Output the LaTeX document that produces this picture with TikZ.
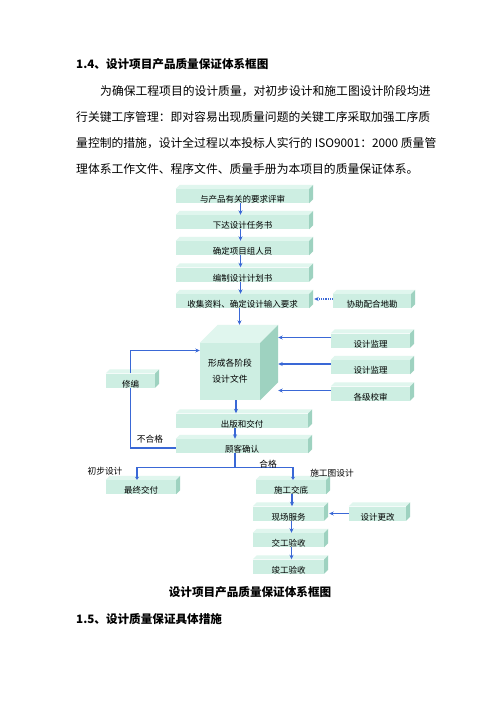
\documentclass[tikz,border=0pt]{standalone}
\usepackage{fontspec}
\setmainfont{Noto Sans CJK SC}
\usetikzlibrary{arrows.meta, positioning, calc}
\definecolor{qianlv}{RGB}{205,238,226}
\definecolor{dinglv}{RGB}{224,246,238}
\definecolor{celv}{RGB}{158,210,192}
\definecolor{lanxian}{RGB}{58,104,214}

\begin{document}
\begin{tikzpicture}[x=1pt, y=-1pt,
                kuang/.style={
                    rectangle,
                    fill=qianlv,
                    minimum height=14pt,
                    inner sep=0pt,
                    text height=13pt,
                    text depth=0pt,
                    font=\fontsize{8.5}{9}\selectfont
                },
                jt/.style={draw=lanxian, line width=1.1pt, -{Stealth[length=4.5pt,width=4pt]}},
                xujt/.style={jt, densely dotted},
                xian/.style={draw=lanxian, line width=1.1pt},
                biaozhu/.style={font=\fontsize{8.7}{9}\selectfont, inner sep=0pt},
                zhengwen/.style={font=\fontsize{11.8}{12}\selectfont, anchor=west, inner sep=0pt},
                biaoti/.style={font=\fontsize{11.6}{12}\selectfont\bfseries, anchor=west, inner sep=0pt}
            ]
                \useasboundingbox[fill=white] (0,0) rectangle (500,707);
                % text above and below the diagram
                \node[biaoti] (t14) at (76,64) {1.4、设计项目产品质量保证体系框图};
                \node[zhengwen] (p1) at (100,91) {为确保工程项目的设计质量，对初步设计和施工图设计阶段均进};
                \node[zhengwen] (p2) at (76,117) {行关键工序管理：即对容易出现质量问题的关键工序采取加强工序质};
                \node[zhengwen] (p3) at (76,143) {量控制的措施，设计全过程以本投标人实行的 ISO9001：2000 质量管};
                \node[zhengwen] (p4) at (76,169) {理体系工作文件、程序文件、质量手册为本项目的质量保证体系。};
                \node[font=\fontsize{11.6}{12}\selectfont\bfseries, inner sep=0pt] (tu) at (250,592) {设计项目产品质量保证体系框图};
                \node[biaoti] (t15) at (76,619) {1.5、设计质量保证具体措施};

                % boxes
                \node[kuang, minimum width=133pt] (b1) at (242.5,196) {与产品有关的要求评审};
                \node[kuang, minimum width=133pt] (b2) at (242.5,222) {下达设计任务书};
                \node[kuang, minimum width=133pt] (b3) at (242.5,248) {确定项目组人员};
                \node[kuang, minimum width=133pt] (b4) at (242.5,274.5) {编制设计计划书};
                \node[kuang, minimum width=133pt] (b5) at (242.5,301) {收集资料、确定设计输入要求};
                \node[kuang, minimum width=78pt] (xj) at (372,301) {协助配合地勘};
                \node[kuang, minimum width=79pt] (jl1) at (370.5,340.5) {设计监理};
                \node[kuang, minimum width=79pt] (jl2) at (370.5,367) {设计监理};
                \node[kuang, minimum width=79pt] (jsh) at (370.5,393.5) {各级校审};
                \node[kuang, minimum width=49pt] (xb) at (130.5,380.5) {修编};
                \node[kuang, minimum width=132pt] (cb) at (242,420.5) {出版和交付};
                \node[kuang, minimum width=132pt] (gk) at (242,446) {顾客确认};
                \node[kuang, minimum width=70pt] (zj) at (141,487) {最终交付};
                \node[kuang, minimum width=70pt] (sg) at (291,487) {施工交底};
                \node[kuang, minimum width=71pt] (xc) at (288.5,513.5) {现场服务};
                \node[kuang, minimum width=57pt] (gg) at (377.5,513.5) {设计更改};
                \node[kuang, minimum width=71pt] (jg) at (288.5,540) {交工验收};
                \node[kuang, minimum width=71pt] (jun) at (288.5,566.5) {竣工验收};
                \foreach \k in {b1,b2,b3,b4,b5,xj,jl1,jl2,jsh,xb,cb,gk,zj,sg,xc,gg,jg,jun} {
                    \fill[dinglv] (\k.north west) -- ++(4pt,4pt) -- ([shift={(4pt,4pt)}]\k.north east) -- (\k.north east) -- cycle;
                    \fill[celv] (\k.north east) -- ++(4pt,4pt) -- ([shift={(4pt,4pt)}]\k.south east) -- (\k.south east) -- cycle;
                }

                % the cube
                \node[rectangle, fill=qianlv, minimum width=60pt, minimum height=57pt, inner sep=0pt,
                      align=center, font=\fontsize{8.8}{16}\selectfont] (cube) at (230,371.5) {形成各阶段\\设计文件};
                \fill[dinglv] (cube.north west) -- ++(18pt,18pt) -- ([shift={(18pt,18pt)}]cube.north east) -- (cube.north east) -- cycle;
                \fill[celv] (cube.north east) -- ++(18pt,18pt) -- ([shift={(18pt,18pt)}]cube.south east) -- (cube.south east) -- cycle;
                \coordinate (cubetop) at ([shift={(18pt,18pt)}]cube.north west);
                \coordinate (cuberight) at ([xshift=18pt]cube.east);

                % connectors
                \draw[jt] ([xshift=-2pt]b1.south) -- ([xshift=-2pt]b2.north);
                \draw[jt] ([xshift=-2pt]b2.south) -- ([xshift=-2pt]b3.north);
                \draw[jt] ([xshift=-2pt]b3.south) -- ([xshift=-2pt]b4.north);
                \draw[jt] ([xshift=-2pt]b4.south) -- ([xshift=-2pt]b5.north);
                \draw[xujt] ([yshift=2pt]xj.west) -- ([xshift=5pt,yshift=2pt]b5.east);
                \draw[jt] ([xshift=-3pt]b5.south) -- ([xshift=-3pt]b5.south |- cubetop);
                \draw[jt] ([yshift=3pt]jl1.west) -- ([yshift=3pt]jl1.west -| cuberight);
                \draw[jt] ([yshift=3pt]jl2.west) -- ([yshift=3pt]jl2.west -| cuberight);
                \draw[jt] ([yshift=3pt]jsh.west) -- ([yshift=3pt]jsh.west -| cuberight);
                \draw[jt] (xb.north) |- ([yshift=21pt]cube.west);
                \draw[jt] ([xshift=6pt]cube.south) -- ([xshift=6pt]cube.south |- cb.north);
                \draw[jt] ([xshift=-7pt]cb.south) -- ([xshift=-7pt]gk.north);
                \draw[xian] (xb.south) |- ([yshift=-2pt]gk.west);
                \draw[xian] ([xshift=-7pt]gk.south) -- ++(0,14) coordinate (fz);
                \draw[jt, -{Stealth[length=3pt,width=4pt]}] (fz) -| ([xshift=-4pt]zj.north);
                \draw[jt, -{Stealth[length=3pt,width=4pt]}] (fz) -| ([xshift=2pt]sg.north);
                \draw[jt] ([xshift=1pt]sg.south) -- ([xshift=1pt]sg.south |- xc.north);
                \draw[jt] ([xshift=3pt]xc.south) -- ([xshift=3pt]jg.north);
                \draw[jt] ([xshift=3pt]jg.south) -- ([xshift=3pt]jun.north);
                \draw[jt] (gg.west) -- ([xshift=5pt]xc.east);

                % labels on the connectors
                \node[biaozhu] (bhg) at (150,439) {不合格};
                \node[biaozhu] (hg) at (268,464) {合格};
                \node[biaozhu] (cbsj) at (105,471) {初步设计};
                \node[biaozhu] (sgt) at (332,473) {施工图设计};
            \end{tikzpicture}
\end{document}
